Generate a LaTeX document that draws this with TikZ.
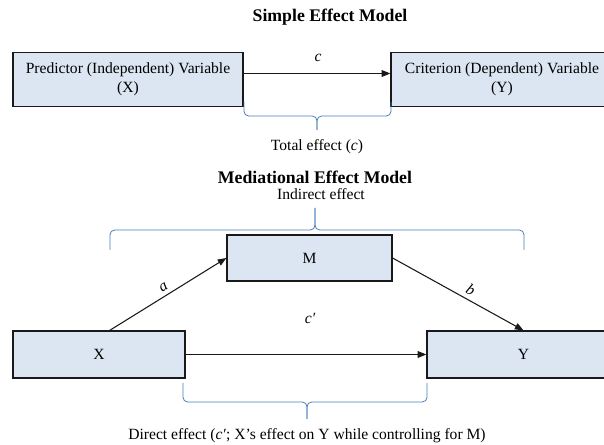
\documentclass[tikz,border=0pt]{standalone}
\usepackage{fontspec}
\setmainfont{Liberation Serif}
\usetikzlibrary{arrows.meta}
\definecolor{boxfill}{HTML}{DCE6F2}
\definecolor{bracecol}{HTML}{4A7EBB}
\tikzset{
  var/.style = {draw=black!90, line width=0.9pt, fill=boxfill, align=center, inner sep=0pt},
  eff/.style = {draw=black!90, line width=0.8pt, -{Triangle[length=6.5pt,width=5pt]}},
  brc/.style = {draw=bracecol, line width=0.6pt, rounded corners=3.5pt},
  lbl/.style = {font=\fontsize{11.7}{14}\itshape, inner sep=1pt},
  ttl/.style = {font=\fontsize{13.3}{16}\selectfont\bfseries}
}
\begin{document}
\begin{tikzpicture}[x = 0.75pt, y = -0.75pt, font=\fontsize{11.7}{14}\selectfont]
\clip (0,0) rectangle (604,445);

\node[ttl] (T1) at (330,17) {Simple Effect Model};
\node[var, minimum width=172.5pt, minimum height=40.5pt] (P) at (128,79.5) {Predictor (Independent) Variable\\(X)};
\node[var, minimum width=166.5pt, minimum height=40.5pt] (C) at (502,79.5) {Criterion (Dependent) Variable\\(Y)};
\draw[eff] ([yshift=4.5pt]P.east) -- ([yshift=4.5pt]C.west);
\node[lbl] (c) at (318,58) {c};
\draw[brc] (244,102) |- (317,116) -- (317,130);
\draw[brc] (391,102) |- (317,116) -- (317,130);
\node (TE) at (317,147) {Total effect (\textit{c})};

\node[ttl] (T2) at (315,177) {Mediational Effect Model};
\node (IE) at (321,194) {Indirect effect};
\draw[brc] (110,250) |- (315,230) -- (315,208);
\draw[brc] (524,250) |- (315,230) -- (315,208);
\node[var, minimum width=123.75pt, minimum height=34.5pt] (M) at (309.5,258) {M};
\node[var, minimum width=129pt, minimum height=35.25pt] (X) at (99,354.5) {X};
\node[var, minimum width=144.75pt, minimum height=35.25pt] (Y) at (523.5,354.5) {Y};
\draw[eff] ([xshift=8pt]X.north) -- (M.west) node[lbl, pos=0.5, sloped, above=2pt] (a) {a};
\draw[eff] (M.east) -- (Y.north) node[lbl, pos=0.56, sloped, above=2pt] (b) {b};
\draw[eff] (X.east) -- (Y.west);
\node[lbl] (cp) at (310,318) {c′};
\draw[brc] (183,383) |- (307,402) -- (307,419);
\draw[brc] (427,383) |- (307,402) -- (307,419);
\node (DE) at (307,436) {Direct effect (\textit{c′}; X’s effect on Y while controlling for M)};
\end{tikzpicture}
\end{document}
